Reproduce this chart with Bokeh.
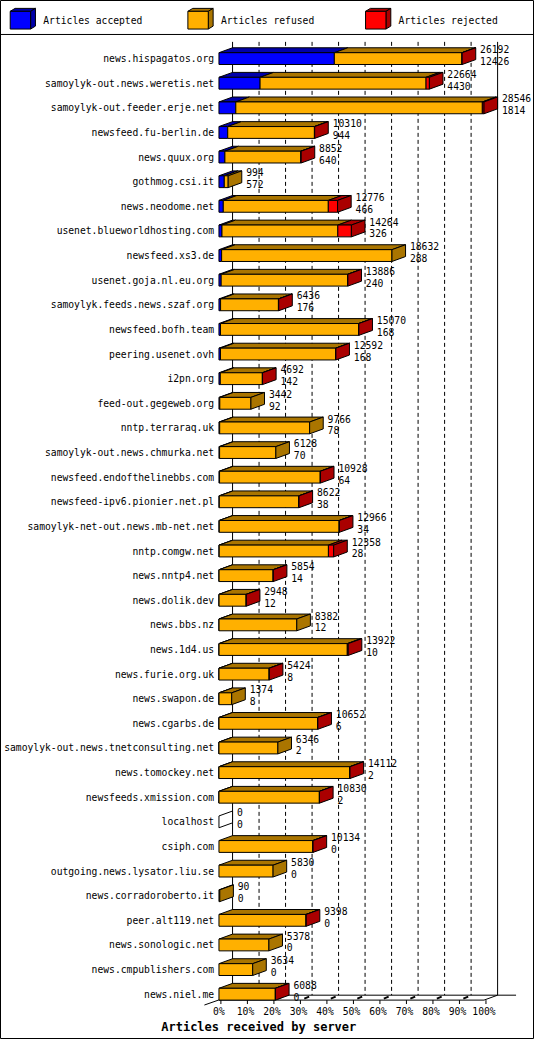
from bokeh.plotting import figure
from bokeh.models import Range1d
from bokeh.core.properties import value
from bokeh.embed import file_html
from bokeh.resources import INLINE

# ---------------- data ----------------
servers = [
    "news.hispagatos.org", "samoylyk-out.news.weretis.net", "samoylyk-out.feeder.erje.net",
    "newsfeed.fu-berlin.de", "news.quux.org", "gothmog.csi.it", "news.neodome.net",
    "usenet.blueworldhosting.com", "newsfeed.xs3.de", "usenet.goja.nl.eu.org",
    "samoylyk.feeds.news.szaf.org", "newsfeed.bofh.team", "peering.usenet.ovh", "i2pn.org",
    "feed-out.gegeweb.org", "nntp.terraraq.uk", "samoylyk-out.news.chmurka.net",
    "newsfeed.endofthelinebbs.com", "newsfeed-ipv6.pionier.net.pl",
    "samoylyk-net-out.news.mb-net.net", "nntp.comgw.net", "news.nntp4.net", "news.dolik.dev",
    "news.bbs.nz", "news.1d4.us", "news.furie.org.uk", "news.swapon.de", "news.cgarbs.de",
    "samoylyk-out.news.tnetconsulting.net", "news.tomockey.net", "newsfeeds.xmission.com",
    "localhost", "csiph.com", "outgoing.news.lysator.liu.se", "news.corradoroberto.it",
    "peer.alt119.net", "news.sonologic.net", "news.cmpublishers.com", "news.niel.me",
]
accepted = [12426, 4430, 1814, 944, 640, 572, 466, 326, 288, 240, 176, 168, 168, 142, 92, 78,
            70, 64, 38, 34, 28, 14, 12, 12, 10, 8, 8, 6, 2, 2, 2, 0, 0, 0, 0, 0, 0, 0, 0]
refused = [13746, 17874, 26552, 9336, 8182, 422, 11310, 12478, 18344, 13616, 6230, 14882,
           12404, 4530, 3350, 9688, 6058, 10844, 8564, 12912, 11760, 5820, 2916, 8370, 13812,
           5396, 1366, 10616, 6344, 14090, 10808, 0, 10114, 5830, 90, 9378, 5378, 3634, 6068]
rejected = [20, 360, 180, 30, 30, 0, 1000, 1460, 0, 30, 30, 20, 20, 20, 0, 0, 0, 20, 20, 20,
            570, 20, 20, 0, 100, 20, 0, 30, 0, 20, 20, 0, 20, 0, 0, 20, 0, 0, 20]
series_names = ["Articles accepted", "Articles refused", "Articles rejected"]
pct_ticks = [0, 10, 20, 30, 40, 50, 60, 70, 80, 90, 100]
tick_labels = ["0%", "10%", "20%", "30%", "40%", "50%", "60%", "70%", "80%", "90%", "100%"]
x_title = "Articles received by server"

front_colors = ["#0000FF", "#FFB000", "#FF0000"]
shade_colors = ["#0000AA", "#AA7500", "#AA0000"]

# ---------------- layout (reference pixel geometry) ----------------
X0_PX, PX_PER_PCT = 225.0, 2.73
ROW0_PX, ROW_PX = 59.0, 25.0


def X(px):
    return (px - X0_PX) / PX_PER_PCT


def Y(py):
    return (py - ROW0_PX) / ROW_PX


DX = 14.0 / PX_PER_PCT      # depth in x (percent units)
DY = 5.0 / ROW_PX           # depth in y (row units)
HALF = 6.0 / ROW_PX         # half height of bar front face
FONT = value("DejaVu Sans Mono")

n = len(servers)
series = [accepted, refused, rejected]
offered = [accepted[i] + refused[i] + rejected[i] for i in range(n)]
vmax = max(offered)

p = figure(width=534, height=1039, output_backend="svg", toolbar_location=None,
           x_range=Range1d(X(0), X(550)), y_range=Range1d(Y(1055), Y(0)),
           x_axis_type=None, y_axis_type=None, min_border=0,
           outline_line_color="black", outline_line_width=1,
           background_fill_color="white", border_fill_color="white")
p.grid.visible = False

# ---------------- legend strip ----------------
p.segment(x0=[X(0)], y0=[Y(34.5)], x1=[X(550)], y1=[Y(34.5)], line_color="black", line_width=1)
for k, name in enumerate(series_names):
    lx = 10 + 183 * k
    p.patch([X(lx), X(lx + 21), X(lx + 26), X(lx + 5)], [Y(11), Y(11), Y(8), Y(8)],
            fill_color=shade_colors[k], line_color="black", line_width=1)
    p.patch([X(lx + 21), X(lx + 26), X(lx + 26), X(lx + 21)], [Y(11), Y(8), Y(26), Y(29)],
            fill_color=shade_colors[k], line_color="black", line_width=1)
    p.quad(left=[X(lx)], right=[X(lx + 21)], top=[Y(11)], bottom=[Y(29)],
           fill_color=front_colors[k], line_color="black", line_width=1)
    p.text(x=[X(lx + 34)], y=[Y(20)], text=[name], text_font=FONT, text_font_size="9.7px",
           text_baseline="middle", text_align="left", text_color="black")

# ---------------- walls / floor ----------------
floor_front = (n - 1) + HALF
floor_back = floor_front - DY
wall_top = Y(42)

grid_x = [t + DX for t in pct_ticks[1:-1]]
p.segment(x0=grid_x, y0=[wall_top] * len(grid_x), x1=grid_x, y1=[floor_back] * len(grid_x),
          line_color="black", line_width=1, line_dash="4 3")
p.segment(x0=[DX, 100 + DX], y0=[wall_top, wall_top], x1=[DX, 100 + DX],
          y1=[floor_back, floor_back], line_color="black", line_width=1)
p.segment(x0=[DX], y0=[floor_back], x1=[X(531)], y1=[floor_back], line_color="black", line_width=1)
p.segment(x0=[-15 / PX_PER_PCT], y0=[floor_front + 5 / ROW_PX], x1=[DX], y1=[floor_back],
          line_color="black", line_width=1)
p.segment(x0=[0], y0=[floor_front], x1=[100], y1=[floor_front], line_color="black", line_width=1)
p.segment(x0=[100], y0=[floor_front], x1=[100 + DX], y1=[floor_back],
          line_color="black", line_width=1)
# tick marks
tx = [t + 2 / PX_PER_PCT for t in pct_ticks]
p.segment(x0=tx, y0=[floor_front] * len(tx), x1=tx, y1=[floor_front + 4 / ROW_PX] * len(tx),
          line_color="black", line_width=1)
bx0 = [t + 6 / PX_PER_PCT for t in pct_ticks[1:-1]]
bx1 = [t + 11 / PX_PER_PCT for t in pct_ticks[1:-1]]
p.segment(x0=bx0, y0=[floor_front - 1.5 / ROW_PX] * len(bx0), x1=bx1,
          y1=[floor_front - 3.5 / ROW_PX] * len(bx0), line_color="black", line_width=2)
p.text(x=pct_ticks, y=[Y(1027)] * len(pct_ticks), text=tick_labels, text_font=FONT,
       text_font_size="9.7px", text_align="center", text_baseline="middle", text_color="black")
p.text(x=[X(266)], y=[Y(1042)], text=[x_title], text_font=FONT, text_font_size="12px",
       text_font_style="bold", text_align="center", text_baseline="middle", text_color="black")

# ---------------- bars ----------------
top_xs, top_ys, top_c = [], [], []
fl, fr, ft, fb, fc = [], [], [], [], []
side_xs, side_ys, side_c = [], [], []
lab_x, lab_y1, lab_y2 = [], [], []
for i in range(n):
    yt, yb = i - HALF, i + HALF
    cum = 0
    last_k = None
    for k in range(3):
        v = series[k][i]
        if v <= 0:
            continue
        l = cum / vmax * 100
        r = (cum + v) / vmax * 100
        top_xs.append([l, r, r + DX, l + DX])
        top_ys.append([yt, yt, yt - DY, yt - DY])
        top_c.append(shade_colors[k])
        fl.append(l); fr.append(r); ft.append(yt); fb.append(yb); fc.append(front_colors[k])
        cum += v
        last_k = k
    r = cum / vmax * 100
    side_xs.append([r, r + DX, r + DX, r])
    side_ys.append([yt, yt - DY, yb - DY, yb])
    side_c.append(shade_colors[last_k] if last_k is not None else "white")
    lab_x.append(r + 18.5 / PX_PER_PCT)
    lab_y1.append(i - 9.5 / ROW_PX)
    lab_y2.append(i + 2.5 / ROW_PX)

p.patches(top_xs, top_ys, fill_color=top_c, line_color="black", line_width=1)
p.quad(left=fl, right=fr, top=ft, bottom=fb, fill_color=fc, line_color="black", line_width=1)
p.patches(side_xs, side_ys, fill_color=side_c, line_color="black", line_width=1)

# ---------------- text ----------------
p.text(x=[X(220)] * n, y=list(range(n)), text=servers, text_font=FONT, text_font_size="9.7px",
       text_align="right", text_baseline="middle", text_color="black")
p.text(x=lab_x, y=lab_y1, text=[str(v) for v in offered], text_font=FONT,
       text_font_size="9.7px", text_align="left", text_baseline="middle", text_color="black")
p.text(x=lab_x, y=lab_y2, text=[str(v) for v in accepted], text_font=FONT,
       text_font_size="9.7px", text_align="left", text_baseline="middle", text_color="black")

open("out.html", "w").write(file_html(p, INLINE))
